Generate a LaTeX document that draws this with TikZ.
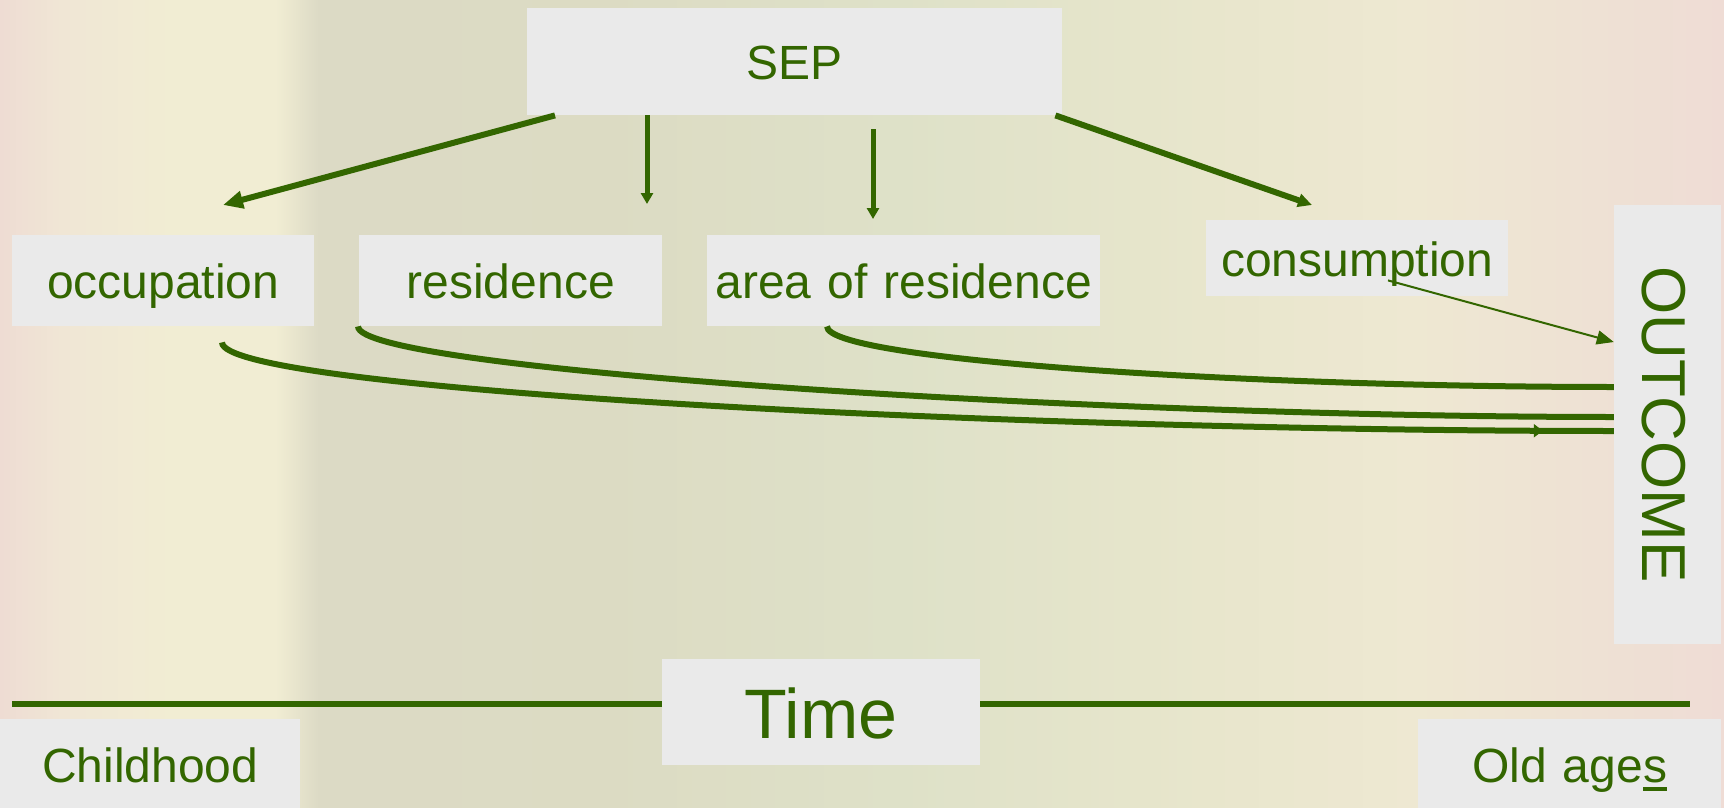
\documentclass[tikz,border=0pt]{standalone}
\usepackage{fontspec}
\setmainfont{Liberation Sans}
\usetikzlibrary{arrows.meta,decorations.markings}
\definecolor{txt}{HTML}{336600}
\definecolor{boxc}{HTML}{EAEAEA}
\definecolor{bgA}{HTML}{EEDCD3}
\definecolor{bgB}{HTML}{F0E6D5}
\definecolor{bgC}{HTML}{F1EDD3}
\definecolor{bgD}{HTML}{DCDAC5}
\definecolor{bgE}{HTML}{DCDBC3}
\definecolor{bgF}{HTML}{DEE1C8}
\definecolor{bgG}{HTML}{E8E6CC}
\definecolor{bgH}{HTML}{EEE8D2}
\definecolor{bgI}{HTML}{EEE0D4}
\definecolor{bgJ}{HTML}{EFDCD5}
\pgfdeclarehorizontalshading{bgshade}{100bp}{color(0bp)=(bgA); color(25bp)=(bgA); color(26.8bp)=(bgB); color(30bp)=(bgC); color(33bp)=(bgC); color(34.25bp)=(bgD); color(42.5bp)=(bgE); color(51bp)=(bgF); color(60bp)=(bgG); color(66bp)=(bgH); color(72bp)=(bgI); color(75bp)=(bgJ); color(100bp)=(bgJ)}
\tikzset{
  box/.style={fill=boxc, inner sep=0pt, text=txt, align=center, anchor=north west,
    font=\fontsize{48}{58}\selectfont},
  link/.style={draw=txt, line width=6pt},
  thickarr/.style={link, -{Triangle[length=20pt,width=17pt]}},
  thickarrb/.style={link, -{Triangle[length=14pt,width=13pt]}},
  medarr/.style={link, line width=5pt, -{Triangle[length=11pt,width=12pt]}},
  thinarr/.style={draw=txt, line width=2pt, -{Triangle[length=17pt,width=14pt]}},
  curveline/.style={draw=txt, line width=6pt},
  timeline/.style={draw=txt, line width=6pt}
}
\begin{document}
\begin{tikzpicture}[x=1pt,y=-1pt]
\useasboundingbox (0,0) rectangle (1724,808);
\shade[shading=bgshade] (0,0) rectangle (1724,808);

% boxes
\node[box, text width=535pt, text height=71pt, text depth=36pt] (sep) at (527,8) {SEP};
\node[box, text width=302pt, text height=63pt, text depth=28pt] (occ) at (12,235) {occupation};
\node[box, text width=303pt, text height=63pt, text depth=28pt] (res) at (359,235) {residence};
\node[box, text width=393pt, text height=63pt, text depth=28pt] (area) at (707,235) {area of residence};
\node[box, text width=302pt, text height=56pt, text depth=20pt] (cons) at (1206,220) {consumption};
\node[box, anchor=center, rotate=-90, text width=439pt, text height=79pt, text depth=28pt,
  font=\fontsize{62}{74}\selectfont] (out) at (1667.5,424.5) {OUTCOME};
\node[box, text width=318pt, text height=79pt, text depth=27pt,
  font=\fontsize{70}{82}\selectfont] (time) at (662,659) {Time};
\node[box, text width=300pt, text height=63pt, text depth=26pt] (child) at (0,719) {Childhood};
\node[box, text width=303pt, text height=63pt, text depth=26pt] (old) at (1418,719)
  {Old age\makebox[0pt][l]{\rule[-9pt]{24pt}{4pt}}s};

% free ends
\coordinate (occtip) at (223,205);
\coordinate (restip) at (647,204);
\coordinate (areastart) at (873,129);
\coordinate (areatip) at (873,219);
\coordinate (constip) at (1312,205);
\coordinate (tl) at (12,704);
\coordinate (tr) at (1690,704);

% arrows from SEP
\draw[thickarr] ([xshift=28pt]sep.south west) -- (occtip);
\draw[medarr] ([xshift=120pt]sep.south west) -- (restip);
\draw[medarr] (areastart) -- (areatip);
\draw[thickarrb] ([xshift=-7pt]sep.south east) -- (constip);

% consumption -> outcome
\draw[thinarr] ([xshift=182pt,yshift=16pt]cons.south west) -- ([yshift=82.5pt]out.south);

% curves to outcome
\draw[curveline] ([xshift=120pt]area.south west) .. controls +(0,34) and +(-363,0) .. ([yshift=37.5pt]out.south);
\draw[curveline] ([xshift=-1pt]res.south west) .. controls +(0,44) and +(-513,0) .. ([yshift=7.5pt]out.south);
\draw[curveline, postaction={decorate}, decoration={markings,
    mark=at position -71pt with {\arrow{Triangle[length=9pt,width=13pt]}}}]
  ([xshift=210pt,yshift=-16pt]occ.south west) .. controls +(0,48) and +(-600,0) .. ([yshift=-6.5pt]out.south);

% time line
\draw[timeline] (tl) -- (tl -| time.west);
\draw[timeline] (tr -| time.east) -- (tr);
\end{tikzpicture}
\end{document}
